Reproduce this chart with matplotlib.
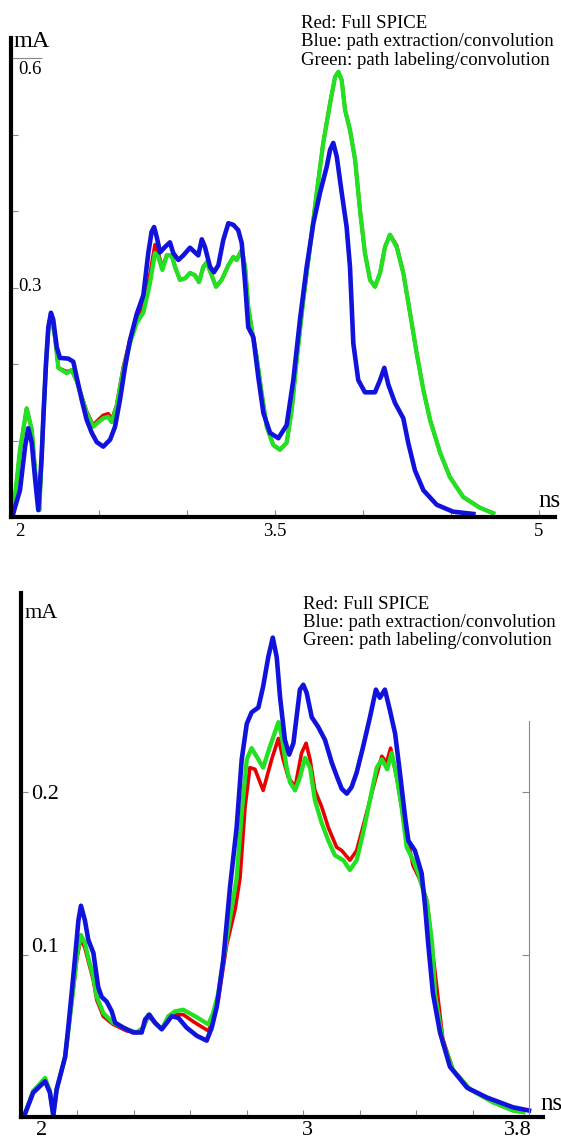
import matplotlib
matplotlib.use('Agg')
import matplotlib.pyplot as plt
from matplotlib.transforms import ScaledTranslation

plt.rcParams['font.family'] = ['Liberation Serif', 'DejaVu Serif']

# ---- top panel: 2 .. 5 ns, current in mA ----
top_t_green = [2.013, 2.051, 2.089, 2.118, 2.146, 2.161, 2.174, 2.184, 2.199, 2.212,
               2.227, 2.250, 2.269, 2.316, 2.345, 2.373, 2.430, 2.467, 2.496, 2.524,
               2.553, 2.572, 2.600, 2.638, 2.676, 2.714, 2.752, 2.790, 2.818, 2.837,
               2.860, 2.885, 2.913, 2.932, 2.960, 2.989, 3.017, 3.045, 3.068, 3.093,
               3.112, 3.140, 3.165, 3.197, 3.235, 3.263, 3.282, 3.311, 3.330, 3.348,
               3.368, 3.396, 3.424, 3.453, 3.490, 3.528, 3.566, 3.595, 3.623, 3.661,
               3.699, 3.737, 3.774, 3.813, 3.841, 3.860, 3.879, 3.898, 3.926, 3.955,
               3.983, 4.011, 4.040, 4.068, 4.097, 4.125, 4.153, 4.191, 4.229, 4.267,
               4.305, 4.343, 4.381, 4.438, 4.494, 4.570, 4.665, 4.740]
top_i_green = [0.005, 0.088, 0.142, 0.114, 0.036, 0.009, 0.078, 0.131, 0.201, 0.245,
               0.264, 0.235, 0.195, 0.188, 0.192, 0.178, 0.136, 0.118, 0.124, 0.129,
               0.131, 0.124, 0.144, 0.192, 0.227, 0.254, 0.267, 0.306, 0.345, 0.340,
               0.323, 0.342, 0.342, 0.327, 0.310, 0.312, 0.319, 0.316, 0.307, 0.327,
               0.333, 0.316, 0.301, 0.310, 0.329, 0.340, 0.336, 0.349, 0.327, 0.275,
               0.244, 0.209, 0.162, 0.118, 0.094, 0.088, 0.097, 0.140, 0.205, 0.284,
               0.353, 0.424, 0.489, 0.541, 0.575, 0.582, 0.571, 0.532, 0.506, 0.467,
               0.401, 0.345, 0.310, 0.301, 0.319, 0.353, 0.369, 0.353, 0.319, 0.267,
               0.214, 0.166, 0.127, 0.084, 0.052, 0.026, 0.012, 0.005]

top_t_red = list(top_t_green)
top_i_red = [0.005, 0.086, 0.142, 0.114, 0.036, 0.009, 0.078, 0.131, 0.201, 0.245,
             0.264, 0.235, 0.195, 0.190, 0.192, 0.178, 0.138, 0.120, 0.127, 0.133,
             0.135, 0.127, 0.146, 0.196, 0.232, 0.258, 0.276, 0.318, 0.356, 0.345,
             0.326, 0.342, 0.342, 0.327, 0.310, 0.312, 0.319, 0.316, 0.307, 0.327,
             0.333, 0.316, 0.301, 0.310, 0.329, 0.340, 0.336, 0.349, 0.327, 0.275,
             0.246, 0.209, 0.162, 0.118, 0.094, 0.088, 0.097, 0.140, 0.205, 0.284,
             0.353, 0.424, 0.489, 0.541, 0.575, 0.582, 0.571, 0.532, 0.506, 0.467,
             0.401, 0.345, 0.310, 0.301, 0.319, 0.353, 0.369, 0.355, 0.319, 0.267,
             0.214, 0.166, 0.127, 0.084, 0.052, 0.026, 0.012, 0.005]

top_t_blue = [2.013, 2.051, 2.080, 2.098, 2.118, 2.136, 2.155, 2.174, 2.184, 2.199,
              2.212, 2.227, 2.240, 2.260, 2.278, 2.326, 2.354, 2.373, 2.402, 2.430,
              2.459, 2.487, 2.524, 2.563, 2.591, 2.619, 2.648, 2.676, 2.714, 2.752,
              2.780, 2.799, 2.813, 2.828, 2.847, 2.875, 2.903, 2.922, 2.951, 2.979,
              3.017, 3.045, 3.064, 3.084, 3.102, 3.131, 3.153, 3.178, 3.206, 3.235,
              3.263, 3.291, 3.311, 3.330, 3.348, 3.377, 3.405, 3.434, 3.472, 3.519,
              3.566, 3.604, 3.642, 3.680, 3.718, 3.756, 3.794, 3.813, 3.831, 3.851,
              3.879, 3.907, 3.926, 3.945, 3.973, 4.011, 4.068, 4.097, 4.121, 4.144,
              4.182, 4.229, 4.257, 4.295, 4.343, 4.419, 4.511, 4.627]
top_i_blue = [0.005, 0.035, 0.092, 0.116, 0.097, 0.052, 0.009, 0.078, 0.131, 0.201,
              0.248, 0.267, 0.258, 0.222, 0.208, 0.207, 0.203, 0.183, 0.153, 0.127,
              0.110, 0.098, 0.092, 0.101, 0.118, 0.153, 0.196, 0.231, 0.265, 0.290,
              0.345, 0.373, 0.379, 0.366, 0.346, 0.353, 0.359, 0.345, 0.336, 0.342,
              0.352, 0.346, 0.342, 0.363, 0.353, 0.327, 0.320, 0.329, 0.362, 0.384,
              0.382, 0.375, 0.358, 0.306, 0.248, 0.235, 0.183, 0.136, 0.110, 0.103,
              0.120, 0.179, 0.258, 0.327, 0.384, 0.424, 0.458, 0.480, 0.489, 0.471,
              0.424, 0.379, 0.327, 0.227, 0.179, 0.163, 0.163, 0.179, 0.195, 0.173,
              0.149, 0.129, 0.097, 0.061, 0.035, 0.016, 0.007, 0.004]

top_xticks = [2, 2.5, 3, 3.5, 4, 4.5, 5]
top_xlabels = ['2', '', '', '3.5', '', '', '5']
top_yticks = [0.1, 0.2, 0.3, 0.4, 0.5, 0.6]
top_ylabels = ['', '', '0.3', '', '', '0.6']

# ---- bottom panel: 2 .. 3.8 ns ----
bot_t_green = [2.016, 2.045, 2.087, 2.104, 2.116, 2.128, 2.140, 2.158, 2.181, 2.200,
               2.214, 2.228, 2.240, 2.258, 2.270, 2.293, 2.328, 2.376, 2.411, 2.435,
               2.453, 2.476, 2.500, 2.523, 2.547, 2.576, 2.618, 2.665, 2.682, 2.700,
               2.730, 2.765, 2.783, 2.801, 2.818, 2.842, 2.859, 2.883, 2.913, 2.925,
               2.942, 2.954, 2.972, 2.989, 3.007, 3.025, 3.042, 3.066, 3.090, 3.113,
               3.143, 3.166, 3.190, 3.213, 3.237, 3.261, 3.279, 3.298, 3.314, 3.332,
               3.349, 3.367, 3.390, 3.408, 3.439, 3.457, 3.467, 3.495, 3.531, 3.591,
               3.673, 3.743, 3.780]
bot_i_green = [0.002, 0.016, 0.024, 0.016, 0.001, 0.017, 0.025, 0.037, 0.070, 0.100,
               0.112, 0.107, 0.098, 0.086, 0.074, 0.064, 0.058, 0.054, 0.052, 0.055,
               0.063, 0.058, 0.054, 0.062, 0.065, 0.066, 0.062, 0.057, 0.064, 0.076,
               0.110, 0.147, 0.187, 0.220, 0.227, 0.220, 0.215, 0.228, 0.243, 0.234,
               0.215, 0.206, 0.201, 0.209, 0.221, 0.215, 0.195, 0.181, 0.170, 0.161,
               0.158, 0.152, 0.158, 0.175, 0.195, 0.215, 0.220, 0.214, 0.224, 0.209,
               0.191, 0.166, 0.158, 0.150, 0.132, 0.107, 0.076, 0.046, 0.029, 0.017,
               0.009, 0.004, 0.003]

bot_t_red = [2.016, 2.045, 2.087, 2.104, 2.116, 2.128, 2.140, 2.158, 2.181, 2.200,
             2.214, 2.228, 2.240, 2.258, 2.270, 2.293, 2.328, 2.376, 2.411, 2.435,
             2.453, 2.476, 2.500, 2.523, 2.547, 2.576, 2.618, 2.665, 2.682, 2.700,
             2.730, 2.760, 2.777, 2.795, 2.812, 2.830, 2.859, 2.889, 2.913, 2.930,
             2.948, 2.972, 2.995, 3.011, 3.025, 3.042, 3.066, 3.090, 3.119, 3.137,
             3.166, 3.190, 3.219, 3.249, 3.279, 3.296, 3.310, 3.332, 3.356, 3.373,
             3.389, 3.414, 3.439, 3.460, 3.480, 3.495, 3.531, 3.591, 3.673, 3.743,
             3.780]
bot_i_red = [0.002, 0.016, 0.023, 0.016, 0.001, 0.017, 0.025, 0.037, 0.070, 0.098,
             0.110, 0.104, 0.096, 0.084, 0.072, 0.062, 0.057, 0.053, 0.052, 0.055,
             0.062, 0.058, 0.054, 0.060, 0.063, 0.063, 0.058, 0.053, 0.060, 0.072,
             0.106, 0.128, 0.147, 0.191, 0.215, 0.214, 0.201, 0.220, 0.233, 0.220,
             0.209, 0.203, 0.224, 0.230, 0.220, 0.201, 0.191, 0.178, 0.166, 0.164,
             0.158, 0.164, 0.183, 0.203, 0.222, 0.218, 0.227, 0.209, 0.183, 0.169,
             0.155, 0.146, 0.133, 0.100, 0.070, 0.048, 0.029, 0.017, 0.009, 0.004,
             0.003]

bot_t_blue = [2.016, 2.045, 2.087, 2.104, 2.116, 2.128, 2.140, 2.158, 2.169, 2.181,
              2.193, 2.205, 2.214, 2.228, 2.240, 2.258, 2.275, 2.287, 2.305, 2.323,
              2.335, 2.364, 2.399, 2.429, 2.441, 2.456, 2.476, 2.500, 2.518, 2.535,
              2.559, 2.588, 2.624, 2.659, 2.677, 2.695, 2.718, 2.742, 2.765, 2.783,
              2.801, 2.818, 2.842, 2.859, 2.877, 2.893, 2.907, 2.919, 2.936, 2.951,
              2.966, 2.980, 2.989, 3.001, 3.013, 3.031, 3.054, 3.078, 3.102, 3.119,
              3.137, 3.155, 3.172, 3.190, 3.213, 3.237, 3.258, 3.272, 3.290, 3.308,
              3.326, 3.343, 3.361, 3.373, 3.396, 3.420, 3.432, 3.443, 3.460, 3.485,
              3.520, 3.581, 3.651, 3.743, 3.800]
bot_i_blue = [0.002, 0.015, 0.022, 0.015, 0.001, 0.017, 0.025, 0.037, 0.055, 0.076,
              0.098, 0.121, 0.130, 0.121, 0.109, 0.101, 0.080, 0.074, 0.071, 0.065,
              0.058, 0.055, 0.052, 0.052, 0.060, 0.063, 0.058, 0.054, 0.058, 0.062,
              0.061, 0.055, 0.050, 0.047, 0.055, 0.068, 0.097, 0.142, 0.178, 0.220,
              0.242, 0.249, 0.252, 0.265, 0.283, 0.295, 0.283, 0.258, 0.232, 0.223,
              0.230, 0.250, 0.263, 0.266, 0.261, 0.246, 0.240, 0.232, 0.218, 0.210,
              0.202, 0.199, 0.203, 0.212, 0.228, 0.246, 0.263, 0.258, 0.263, 0.250,
              0.236, 0.212, 0.185, 0.170, 0.164, 0.150, 0.130, 0.107, 0.076, 0.052,
              0.031, 0.018, 0.012, 0.006, 0.004]

bot_xticks = [2, 2.2, 2.4, 2.6, 2.8, 3, 3.2, 3.4, 3.6, 3.8]
bot_xlabels = ['2', '', '', '', '', '3', '', '', '', '3.8']
bot_yticks = [0.1, 0.2]
bot_ylabels = ['0.1', '0.2']

legend_lines = ['Red: Full SPICE',
                'Blue: path extraction/convolution',
                'Green: path labeling/convolution']

RED, GREEN, BLUE = '#e80000', '#22e022', '#1212dd'
W, H = 561, 1146

fig = plt.figure(figsize=(W / 100, H / 100), dpi=100)


def px_box(x0, x1, y_top, y_bot):
    return [x0 / W, 1 - y_bot / H, (x1 - x0) / W, (y_bot - y_top) / H]


def style_axes(ax, fs):
    for s in ['top', 'right']:
        ax.spines[s].set_visible(False)
    for s in ['left', 'bottom']:
        ax.spines[s].set_linewidth(3)
        ax.spines[s].set_color('black')
    ax.tick_params(direction='in', length=5, width=0.8, color='#888888',
                   labelsize=fs, labelcolor='black')


def shift(lab, dx=0, dy=0):
    lab.set_transform(lab.get_transform() + ScaledTranslation(dx / 100, dy / 100, fig.dpi_scale_trans))


# top panel
ax1 = fig.add_axes(px_box(11, 555, 38, 517))
ax1.plot(top_t_red, top_i_red, color=RED, lw=2.6, solid_joinstyle='round')
ax1.plot(top_t_green, top_i_green, color=GREEN, lw=3.1, solid_joinstyle='round')
ax1.plot(top_t_blue, top_i_blue, color=BLUE, lw=3.3, solid_joinstyle='round')
ax1.set_xlim(2, 2 + 544 / 176)
ax1.set_ylim(0, 479 / 765)
style_axes(ax1, 13.5)
ax1.set_xticks(top_xticks, top_xlabels)
ax1.set_yticks(top_yticks, top_ylabels)
ax1.tick_params(axis='x', pad=4)
ax1.tick_params(axis='y', pad=-5)
for lab in ax1.get_yticklabels():
    lab.set_horizontalalignment('left')
shift(ax1.get_xticklabels()[0], dx=9)
shift(ax1.get_yticklabels()[2], dy=3)
shift(ax1.get_yticklabels()[5], dy=-9)
ax1.yaxis.get_major_ticks()[5].tick1line.set_markersize(22)

# bottom panel
ax2 = fig.add_axes(px_box(20.5, 543, 593, 1117))
ax2.plot(bot_t_red, bot_i_red, color=RED, lw=2.6, solid_joinstyle='round')
ax2.plot(bot_t_green, bot_i_green, color=GREEN, lw=3.1, solid_joinstyle='round')
ax2.plot(bot_t_blue, bot_i_blue, color=BLUE, lw=3.3, solid_joinstyle='round')
ax2.set_xlim(2, 2 + 522.5 / 282.5)
ax2.set_ylim(0, 524 / 1625)
style_axes(ax2, 16)
ax2.spines['right'].set_visible(True)
ax2.spines['right'].set_position(('data', 3.8))
ax2.spines['right'].set_bounds(0, 0.244)
ax2.spines['right'].set_linewidth(0.8)
ax2.spines['right'].set_color('#888888')
ax2.set_xticks(bot_xticks, bot_xlabels)
ax2.set_yticks(bot_yticks, bot_ylabels)
ax2.tick_params(axis='y', right=True, labelright=False, pad=-8)
ax2.tick_params(axis='x', pad=3)
for lab in ax2.get_yticklabels():
    lab.set_horizontalalignment('left')
shift(ax2.get_yticklabels()[0], dy=10)
for lab, dx in zip(ax2.get_xticklabels(), [21, 0, 0, 0, 0, 4, 0, 0, 0, -11]):
    shift(lab, dx=dx)

# axis units
fig.text(14 / W, 1 - 47 / H, 'mA', fontsize=17.5, va='baseline')
fig.text(538 / W, 1 - 507 / H, 'ns', fontsize=18, va='baseline')
fig.text(25 / W, 1 - 618 / H, 'mA', fontsize=16, va='baseline')
fig.text(540 / W, 1 - 1110 / H, 'ns', fontsize=18, va='baseline')

# legend text
for k, line in enumerate(legend_lines):
    fig.text(301 / W, 1 - (28 + 18.5 * k) / H, line, fontsize=13.5, va='baseline')
    fig.text(303 / W, 1 - (609 + 18 * k) / H, line, fontsize=13.5, va='baseline')

fig.savefig('out.png', dpi=100)
